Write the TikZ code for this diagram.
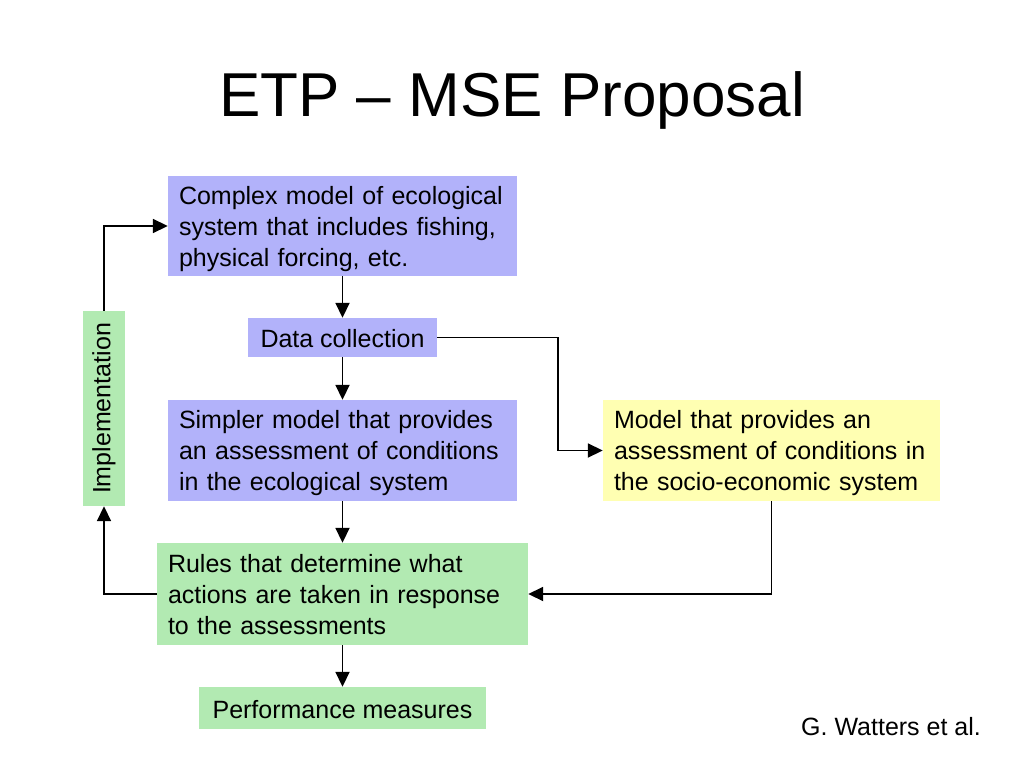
\documentclass[tikz,border=0pt]{standalone}
\usepackage{fontspec}
\setmainfont{Liberation Sans}
\usetikzlibrary{arrows.meta}
\definecolor{boxblue}{HTML}{B2B2FA}
\definecolor{boxyellow}{HTML}{FFFFB2}
\definecolor{boxgreen}{HTML}{B2EAB2}
\newcommand{\boxlines}[1]{\raisebox{-3pt}[\height][\depth]{\begin{tabular}{@{}l@{}}#1\end{tabular}}}
\newcommand{\boxline}[1]{\raisebox{-1.5pt}[\height][\depth]{#1}}
\begin{document}
\begin{tikzpicture}[x=1pt,y=-1pt,
  box/.style={inner xsep=11pt, inner ysep=0pt, align=left, font=\fontsize{25}{31}\selectfont},
  blue box/.style={box, fill=boxblue},
  yellow box/.style={box, fill=boxyellow},
  green box/.style={box, fill=boxgreen},
  conn/.style={line width=1.8pt, -{Triangle[length=15pt,width=14pt]}}
]
\useasboundingbox (0,0) rectangle (1024,768);
\node (title) at (512,100) {\fontsize{62}{70}\selectfont ETP -- MSE Proposal};

\node[blue box, minimum width=349pt, minimum height=100pt, text width=327pt] (complex) at (342.5,226)
  {\boxlines{Complex model of ecological\\system that includes fishing,\\physical forcing, etc.}};
\node[blue box, align=center, minimum width=189pt, minimum height=39pt] (data) at (342.5,337.5) {\boxline{Data collection}};
\node[blue box, minimum width=349pt, minimum height=101pt, text width=327pt] (simple) at (342.5,450.5)
  {\boxlines{Simpler model that provides\\an assessment of conditions\\in the ecological system}};
\node[yellow box, minimum width=337pt, minimum height=101pt, text width=315pt] (socio) at (771.5,450.5)
  {\boxlines{Model that provides an\\assessment of conditions in\\the socio-economic system}};
\node[green box, minimum width=371pt, minimum height=102pt, text width=349pt] (rules) at (342.5,594)
  {\boxlines{Rules that determine what\\actions are taken in response\\to the assessments}};
\node[green box, align=center, minimum width=287pt, minimum height=42pt] (perf) at (342.5,708) {\boxline{Performance measures}};
\node[green box, align=center, minimum width=195pt, minimum height=42pt, rotate=90] (impl) at (104,408.5) {Implementation};
\node[font=\fontsize{25}{31}\selectfont] (credit) at (891,727) {G. Watters et al.};

\draw[conn] (complex) -- (data);
\draw[conn] (data) -- (simple);
\draw[conn] (simple) -- (rules);
\draw[conn] (rules) -- (perf);
\draw[conn] (data.east) -| ([xshift=-45pt]socio.west) -- (socio.west);
\draw[conn] (socio.south) |- (rules.east);
\draw[conn] (rules.west) -| (impl.west);
\draw[conn] (impl.east) |- (complex.west);
\end{tikzpicture}
\end{document}
